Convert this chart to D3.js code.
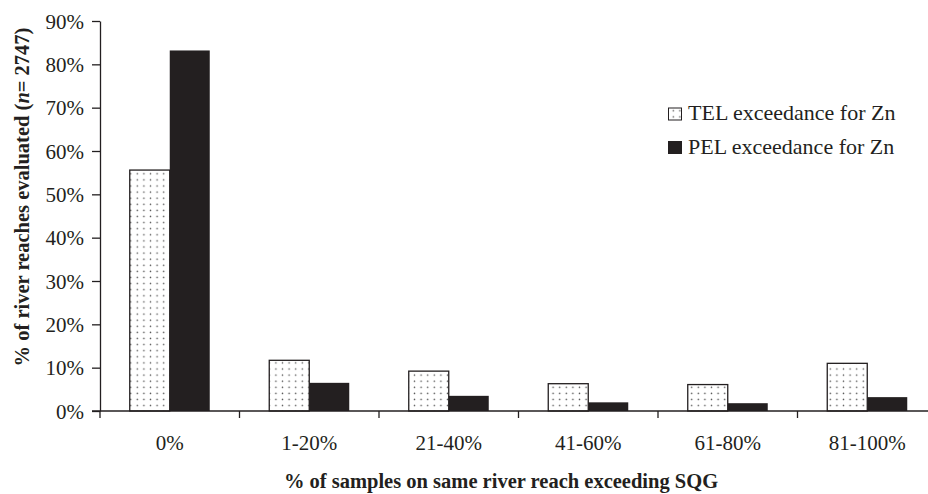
<!DOCTYPE html>
<html><head><meta charset="utf-8">
<script src="https://cdn.jsdelivr.net/npm/d3@7"></script>
<style>body{margin:0;background:#fff}svg{display:block}text{font-family:"Times New Roman","Liberation Serif",Times,serif;fill:#231f20}</style>
</head><body>
<script>
const categories = ["0%","1-20%","21-40%","41-60%","61-80%","81-100%"];
const telValues = [55.6,11.7,9.2,6.3,6.1,11.0];
const pelValues = [83.2,6.5,3.5,2.0,1.8,3.2];
const seriesNames = ["TEL exceedance for Zn","PEL exceedance for Zn"];
const yTicks = [0,10,20,30,40,50,60,70,80,90];

const W=928,H=494;
const svg=d3.select("body").append("svg").attr("width",W).attr("height",H);
const defs=svg.append("defs");
const pat=defs.append("pattern").attr("id","dots").attr("patternUnits","userSpaceOnUse")
  .attr("width",6.6).attr("height",6.1).attr("x",2).attr("y",0);
pat.append("rect").attr("width",6.6).attr("height",6.1).attr("fill","#fff");
pat.append("circle").attr("cx",3.3).attr("cy",3).attr("r",0.75).attr("fill","#555");

const x0=100, x1=937, yTop=21, yBot=411;
const x=d3.scaleBand().domain(categories).range([x0,x1]).paddingInner(0).paddingOuter(0);
const gw=80;
const xs=d3.scaleBand().domain([0,1]).range([0,gw]);
const y=d3.scaleLinear().domain([0,90]).range([yBot,yTop]);
const ink="#231f20";

// bars
const g=svg.append("g");
categories.forEach((c,i)=>{
  const cx=x(c)+x.bandwidth()/2-gw/2;
  g.append("rect").attr("x",cx+xs(0)).attr("y",y(telValues[i])).attr("width",xs.bandwidth())
   .attr("height",yBot-y(telValues[i])).attr("fill","url(#dots)").attr("stroke",ink).attr("stroke-width",1.3);
  g.append("rect").attr("x",cx+xs(1)).attr("y",y(pelValues[i])).attr("width",xs.bandwidth())
   .attr("height",yBot-y(pelValues[i])).attr("fill",ink);
});

// y axis
const ya=svg.append("g").attr("transform",`translate(${x0},0)`)
  .call(d3.axisLeft(y).tickValues(yTicks).tickFormat(d=>d+"%").tickSize(8).tickSizeOuter(0));
ya.select(".domain").attr("stroke",ink).attr("stroke-width",1.3);
ya.selectAll(".tick line").attr("stroke",ink).attr("stroke-width",1.3);
ya.selectAll(".tick text").attr("font-size",21).attr("x",-16).attr("dy","0.34em").attr("fill",ink);

// x axis
const xa=svg.append("g").attr("transform",`translate(0,${yBot})`);
xa.append("line").attr("x1",x0-8).attr("x2",x1).attr("y1",0).attr("y2",0).attr("stroke",ink).attr("stroke-width",1.3);
categories.forEach(c=>{
  xa.append("line").attr("x1",x(c)).attr("x2",x(c)).attr("y1",0).attr("y2",7).attr("stroke",ink).attr("stroke-width",1.3);
  xa.append("text").attr("x",x(c)+x.bandwidth()/2).attr("y",39).attr("text-anchor","middle").attr("font-size",21).text(c);
});

// titles
svg.append("text").attr("x",501).attr("y",488).attr("text-anchor","middle").attr("font-size",20.5).attr("font-weight","bold")
  .text("% of samples on same river reach exceeding SQG");
const yl=svg.append("text").attr("transform",`translate(29,197) rotate(-90)`).attr("text-anchor","middle")
  .attr("font-size",20.5).attr("font-weight","bold");
yl.append("tspan").text("% of river reaches evaluated (");
yl.append("tspan").attr("font-style","italic").text("n");
yl.append("tspan").text("= 2747)");

// legend
const lg=svg.append("g").attr("transform","translate(668,120)");
seriesNames.forEach((s,i)=>{
  const row=lg.append("g").attr("transform",`translate(0,${i*33.5})`);
  row.append("rect").attr("x",0.5).attr("y",-12).attr("width",13).attr("height",12)
    .attr("fill",i===0?"url(#dots)":ink).attr("stroke",ink).attr("stroke-width",1);
  row.append("text").attr("x",20).attr("y",0).attr("font-size",22).text(s);
});
</script>
</body></html>
